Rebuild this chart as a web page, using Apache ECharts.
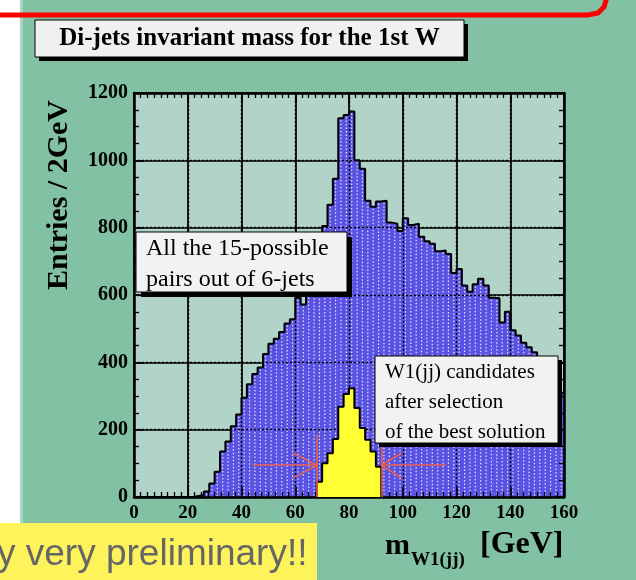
<!DOCTYPE html>
<html>
<head>
<meta charset="utf-8">
<script src="https://cdn.jsdelivr.net/npm/echarts@6/dist/echarts.min.js"></script>
<style>
html,body{margin:0;padding:0;background:#ffffff;}
#chart{width:636px;height:580px;}
</style>
</head>
<body>
<div id="chart"></div>
<script>
// ---- data ----
const massLow = [0,2,4,6,8,10,12,14,16,18,20,22,24,26,28,30,32,34,36,38,40,42,44,46,48,50,52,54,56,58,60,62,64,66,68,70,72,74,76,78,80,82,84,86,88,90,92,94,96,98,100,102,104,106,108,110,112,114,116,118,120,122,124,126,128,130,132,134,136,138,140,142,144,146,148,150,152,154,156,158];
const allPairs = [0,0,0,0,0,0,0,0,0,0,
                  0,3,6,16,40,75,135,165,210,245,
                  295,335,365,385,425,455,470,490,515,528,
                  592,572,640,690,740,805,868,945,1125,1135,
                  1145,1000,975,880,862,878,880,815,812,790,
                  828,808,812,773,760,752,730,732,722,665,
                  677,628,610,632,648,628,592,590,518,550,
                  495,480,458,445,430,410,390,365,340,310];
const selLow = [68,70,72,74,76,78,80,82,84,86,88,90];
const selected = [45,100,130,172,268,306,323,264,205,170,135,90];
const binWidth = 2;
const xTickValues = [0,20,40,60,80,100,120,140,160];
const yTickValues = [0,200,400,600,800,1000,1200];
const titleText = 'Di-jets invariant mass for the 1st W';
const yTitle = 'Entries / 2GeV';
const box1Lines = ['All the 15-possible', 'pairs out of 6-jets'];
const box2Lines = ['W1(jj) candidates', 'after selection', 'of the best solution'];
const noteText = 'y very preliminary!!';
// selection-window arrows (data units: [GeV, entries])
const arrowSegs = [
  [[68,0],[68,185]], [[44.3,95],[68,95]], [[59.3,130],[68,95]], [[59.3,56],[68,95]],
  [[92,0],[92,155]], [[92,95],[116,95]], [[99.6,130],[92,95]], [[99.6,56],[92,95]]
];

// ---- styles ----
const SERIF = '"Liberation Serif", "DejaVu Serif", serif';
const PANEL = '#82c1a3';
const PLOTBG = '#b1d3c8';
const BLUE = '#5a52e2';
const YELLOW = '#ffff33';
const xMin = xTickValues[0], xMax = xTickValues[xTickValues.length-1];
const yMin = yTickValues[0], yMax = yTickValues[yTickValues.length-1];

function histRender(color, hatch) {
  return function (params, api) {
    const x0 = api.value(0), x1 = api.value(1), v = api.value(2);
    if (!v) return null;
    const p0 = api.coord([x0, v]);
    const p1 = api.coord([x1, 0]);
    const w = p1[0] - p0[0], h = p1[1] - p0[1];
    const ch = [{type:'rect', shape:{x:p0[0], y:p0[1], width:w + 0.6, height:h}, style:{fill:color}}];
    if (hatch && h > 3) {
      const xc = p0[0] + w/2;
      ch.push({type:'line', shape:{x1:xc, y1:p0[1]+2, x2:xc, y2:p1[1]}, style:{stroke:'rgba(235,235,255,0.95)', lineWidth:1.2, lineDash:[1.5,2]}});
    }
    return {type:'group', children: ch};
  };
}

const blueData = massLow.map((x,i) => [x, x + binWidth, allPairs[i]]);
const yellowData = selLow.map((x,i) => [x, x + binWidth, selected[i]]);
const blueOutline = massLow.map((x,i) => [x, allPairs[i]]).concat([[xMax, allPairs[allPairs.length-1]]]);
const lastSel = selLow[selLow.length-1] + binWidth;
const yellowOutline = [[selLow[0], 0]].concat(selLow.map((x,i) => [x, selected[i]]))
  .concat([[lastSel, selected[selected.length-1]], [lastSel, 0]]);

const axisLabelStyle = {fontFamily: SERIF, fontWeight:'bold', color:'#000', formatter: v => String(v)};
const frameLine = {show:true, onZero:false, lineStyle:{color:'#000', width:2.5}};

const chart = echarts.init(document.getElementById('chart'), null, {renderer:'canvas'});
const option = {
  animation: false,
  backgroundColor: PANEL,
  grid: {left:134, top:93, width:430, height:404, show:true, backgroundColor:PLOTBG, borderWidth:0, containLabel:false},
  xAxis: [
    {type:'value', min:xMin, max:xMax, interval:20, position:'bottom', z:0,
     axisLine:{show:false}, axisTick:{show:false}, axisLabel:{show:false},
     splitLine:{show:true, lineStyle:{color:'#000', width:1.7, type:'solid'}}},
    {type:'value', min:xMin, max:xMax, interval:20, position:'bottom', z:3,
     axisLine: frameLine,
     axisTick:{show:true, inside:true, length:10, lineStyle:{color:'#000', width:1.5}},
     minorTick:{show:true, splitNumber:8, length:5, lineStyle:{color:'#000', width:1.3}},
     axisLabel:Object.assign({show:true, fontSize:19, margin:7}, axisLabelStyle),
     splitLine:{show:true, lineStyle:{color:'#000', width:1.4, type:[2,2]}}},
    {type:'value', min:xMin, max:xMax, interval:20, position:'top', z:3,
     axisLine: frameLine,
     axisTick:{show:true, inside:true, length:10, lineStyle:{color:'#000', width:1.5}},
     minorTick:{show:true, splitNumber:8, length:5, lineStyle:{color:'#000', width:1.3}},
     axisLabel:{show:false}, splitLine:{show:false}}
  ],
  yAxis: [
    {type:'value', min:yMin, max:yMax, interval:200, position:'left', z:0,
     axisLine:{show:false}, axisTick:{show:false}, axisLabel:{show:false},
     splitLine:{show:true, lineStyle:{color:'#000', width:1.7, type:'solid'}}},
    {type:'value', min:yMin, max:yMax, interval:200, position:'left', z:3,
     axisLine: frameLine,
     axisTick:{show:true, inside:true, length:10, lineStyle:{color:'#000', width:1.5}},
     minorTick:{show:true, splitNumber:4, length:5, lineStyle:{color:'#000', width:1.3}},
     axisLabel:Object.assign({show:true, fontSize:20, margin:6}, axisLabelStyle),
     splitLine:{show:true, lineStyle:{color:'#000', width:1.4, type:[2,2]}}},
    {type:'value', min:yMin, max:yMax, interval:200, position:'right', z:3,
     axisLine: frameLine,
     axisTick:{show:true, inside:true, length:10, lineStyle:{color:'#000', width:1.5}},
     minorTick:{show:true, splitNumber:4, length:5, lineStyle:{color:'#000', width:1.3}},
     axisLabel:{show:false}, splitLine:{show:false}}
  ],
  series: [
    {name:'all pairs', type:'custom', xAxisIndex:0, yAxisIndex:0, z:1, clip:true,
     renderItem: histRender(BLUE, true), encode:{x:[0,1], y:2}, data: blueData},
    {name:'all pairs outline', type:'line', xAxisIndex:0, yAxisIndex:0, z:5, step:'end',
     symbol:'none', lineStyle:{color:'#000', width:2}, data: blueOutline},
    {name:'selected', type:'custom', xAxisIndex:0, yAxisIndex:0, z:4, clip:true,
     renderItem: histRender(YELLOW, false), encode:{x:[0,1], y:2}, data: yellowData},
    {name:'selected outline', type:'line', xAxisIndex:0, yAxisIndex:0, z:5, step:'end',
     symbol:'none', lineStyle:{color:'#000', width:2}, data: yellowOutline,
     markLine:{silent:true, z:6, symbol:['none','none'], label:{show:false},
       lineStyle:{color:'#e8604e', width:1.6, type:'solid'},
       emphasis:{disabled:true},
       data: arrowSegs.map(s => [{coord:s[0]}, {coord:s[1]}])}}
  ],
  graphic: [
    {type:'rect', z:-50, shape:{x:0, y:0, width:20, height:580}, style:{fill:'#ffffff'}},
    {type:'rect', z:-49, shape:{x:20, y:0, width:3, height:580}, style:{fill:'#a8d6c0'}},
    {type:'polyline', z:100, shape:{points:[[-5,15],[588,15],[598,13],[604,7],[607,-3]]}, style:{stroke:'#ff0000', lineWidth:5, fill:null}},
    // title box
    {type:'rect', z:100, shape:{x:39, y:24, width:429, height:37}, style:{fill:'#000'}},
    {type:'rect', z:101, shape:{x:35, y:20, width:429, height:37}, style:{fill:'#f0f0f0', stroke:'#000', lineWidth:1}},
    {type:'text', z:102, x:249.5, y:39, style:{text:titleText, font:'bold 25px ' + SERIF, fill:'#000', align:'center', verticalAlign:'middle', textAlign:'center', textVerticalAlign:'middle'}},
    // y title
    {type:'text', z:102, x:59, y:195, rotation:Math.PI/2, style:{text:yTitle, font:'bold 30px ' + SERIF, fill:'#000', align:'center', verticalAlign:'middle', textAlign:'center', textVerticalAlign:'middle'}},
    // box 1
    {type:'rect', z:100, shape:{x:141, y:237, width:211, height:60}, style:{fill:'#000'}},
    {type:'rect', z:101, shape:{x:136, y:232, width:211, height:60}, style:{fill:'#f2f2f2', stroke:'#000', lineWidth:1}},
    {type:'text', z:102, x:146, y:249, style:{text:box1Lines[0], font:'24px ' + SERIF, fill:'#000', align:'left', verticalAlign:'middle', textAlign:'left', textVerticalAlign:'middle'}},
    {type:'text', z:102, x:146, y:280, style:{text:box1Lines[1], font:'24px ' + SERIF, fill:'#000', align:'left', verticalAlign:'middle', textAlign:'left', textVerticalAlign:'middle'}},
    // box 2
    {type:'rect', z:100, shape:{x:379, y:360, width:183, height:87}, style:{fill:'#000'}},
    {type:'rect', z:101, shape:{x:375, y:356, width:183, height:87}, style:{fill:'#f2f2f2', stroke:'#000', lineWidth:1}},
    {type:'text', z:102, x:385, y:372, style:{text:box2Lines[0], font:'21px ' + SERIF, fill:'#000', align:'left', verticalAlign:'middle', textAlign:'left', textVerticalAlign:'middle'}},
    {type:'text', z:102, x:385, y:402, style:{text:box2Lines[1], font:'21px ' + SERIF, fill:'#000', align:'left', verticalAlign:'middle', textAlign:'left', textVerticalAlign:'middle'}},
    {type:'text', z:102, x:385, y:432, style:{text:box2Lines[2], font:'21px ' + SERIF, fill:'#000', align:'left', verticalAlign:'middle', textAlign:'left', textVerticalAlign:'middle'}},
    // x title
    {type:'text', z:102, x:385, y:546, style:{text:'m', font:'bold 30px ' + SERIF, fill:'#000', align:'left', verticalAlign:'middle', textAlign:'left', textVerticalAlign:'middle'}},
    {type:'text', z:102, x:411, y:560, style:{text:'W1(jj)', font:'bold 19px ' + SERIF, fill:'#000', align:'left', verticalAlign:'middle', textAlign:'left', textVerticalAlign:'middle'}},
    {type:'text', z:102, x:480, y:545, style:{text:'[GeV]', font:'bold 32px ' + SERIF, fill:'#000', align:'left', verticalAlign:'middle', textAlign:'left', textVerticalAlign:'middle'}},
    // yellow note
    {type:'rect', z:100, shape:{x:0, y:523, width:317, height:57}, style:{fill:'#fff35c'}},
    {type:'text', z:102, x:-3, y:555, style:{text:noteText, font:'37px "Liberation Sans", Arial, sans-serif', fill:'#666666', align:'left', verticalAlign:'middle', textAlign:'left', textVerticalAlign:'middle'}}
  ]
};
chart.setOption(option);
</script>
</body>
</html>
